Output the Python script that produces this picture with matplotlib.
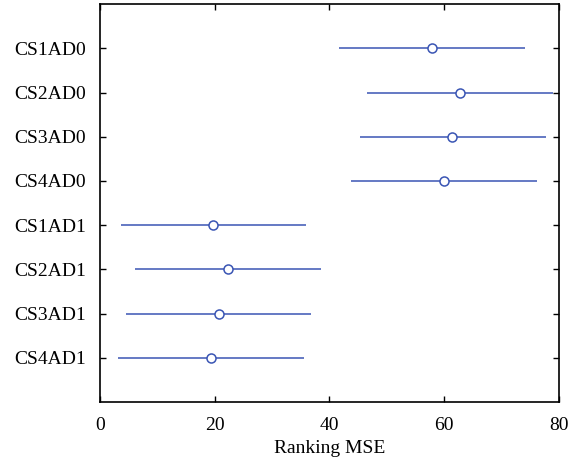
import numpy as np
import matplotlib.pyplot as plt

plt.rcParams['font.family'] = ['Liberation Serif', 'DejaVu Serif']

groups = ["CS1AD0", "CS2AD0", "CS3AD0", "CS4AD0",
          "CS1AD1", "CS2AD1", "CS3AD1", "CS4AD1"]
means = [57.8, 62.7, 61.4, 59.9, 19.7, 22.4, 20.7, 19.4]
lower = [41.7, 46.6, 45.3, 43.8, 3.6, 6.2, 4.5, 3.2]
upper = [74.0, 78.9, 77.7, 76.1, 35.9, 38.6, 36.8, 35.5]

col = '#3a55b4'

fig = plt.figure(figsize=(5.74, 4.63), dpi=100)
ax = fig.add_axes([0.174, 0.132, 0.8, 0.859])

ypos = np.arange(len(groups), 0, -1)
ax.hlines(ypos, lower, upper, color=col, lw=1.1)
ax.plot(means, ypos, 'o', mfc='white', mec=col, ms=6.5, mew=1.1, ls='none')

ax.set_xlim(0, 80)
ax.set_ylim(0, len(groups) + 1)
ax.set_xticks([0, 20, 40, 60, 80])
ax.set_yticks(ypos)
ax.set_yticklabels(groups)
ax.set_xlabel("Ranking MSE", fontsize=14, labelpad=4)
ax.tick_params(direction='in', top=True, right=True, labelsize=14, length=4, width=1)
ax.tick_params(axis='y', pad=10)
ax.tick_params(axis='x', pad=11)
for s in ax.spines.values():
    s.set_linewidth(1.2)

fig.savefig("out.png", dpi=100)
